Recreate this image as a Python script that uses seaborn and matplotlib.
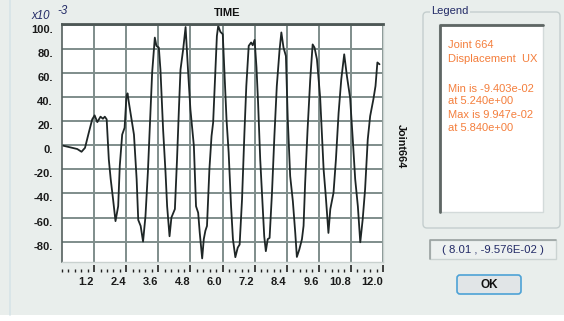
import numpy as np
import pandas as pd
import seaborn as sns
import matplotlib.pyplot as plt
from matplotlib import patches, transforms
from matplotlib.ticker import MultipleLocator

# Joint 664 displacement UX, in units of 1e-3
time_vals = [0.0, 0.26, 0.45, 0.57, 0.73, 0.86, 1.0, 1.13, 1.22, 1.32, 1.44, 1.53, 1.6, 1.67,
             1.75, 1.82, 1.91, 2.0, 2.1, 2.16, 2.25, 2.34, 2.41, 2.45, 2.5, 2.62, 2.69, 2.79,
             2.85, 2.94, 3.03, 3.12, 3.21, 3.28, 3.37, 3.47, 3.53, 3.62, 3.68, 3.78, 3.87, 3.93,
             4.02, 4.09, 4.22, 4.3, 4.37, 4.43, 4.53, 4.62, 4.71, 4.8, 4.93, 5.01, 5.09, 5.15,
             5.24, 5.3, 5.36, 5.42, 5.51, 5.59, 5.65, 5.73, 5.79, 5.84, 5.92, 6.01, 6.07, 6.15,
             6.23, 6.32, 6.39, 6.48, 6.57, 6.64, 6.73, 6.82, 6.89, 6.98, 7.07, 7.13, 7.2, 7.27,
             7.33, 7.41, 7.5, 7.56, 7.62, 7.69, 7.76, 7.85, 7.94, 8.03, 8.13, 8.2, 8.28, 8.37,
             8.44, 8.53, 8.63, 8.72, 8.78, 8.87, 8.97, 9.03, 9.09, 9.18, 9.28, 9.37, 9.44, 9.53,
             9.59, 9.65, 9.69, 9.78, 9.86, 9.96, 10.03, 10.15, 10.24, 10.34, 10.44, 10.55, 10.65,
             10.77, 10.87, 10.96, 11.06, 11.15, 11.24, 11.33, 11.43, 11.52, 11.64, 11.72, 11.79,
             11.87]
disp_vals = [0, -1.4, -2.5, -3.0, -5.3, -2.0, 10.5, 21.7, 25.0, 19.4, 23.9, 22.2, 23.9, 21.7,
             -11.7, -28, -45, -63, -50.6, -17, 9, 14.7, 41, 43.3, 35.6, 19, 9, -28,
             -62, -67, -80, -59, -22.5, 13, 60.5, 89.7, 82.8, 81.4, 63, 13, -22.5, -50.6,
             -75.6, -60, -53, -11.7, 30, 63, 80, 98.5, 63, 30, -0.5, -50.6, -56, -72.8,
             -94.03, -78, -71, -67, -20, 7.8, 19, 60.5, 91, 99.47, 94.5, 92.5, 63, 21.7,
             -6, -50.6, -78, -93.0, -85, -82.5, -45, 10.6, 49.4, 82.8, 85.6, 83.3, 87.8, 65,
             35.6, -11.7, -50.6, -75.6, -88, -78, -77, -39.4, 7.8, 49.4, 78.6, 94, 81.4, 74.4,
             21.7, -25.6, -46.4, -72.8, -92.8, -86.7, -78, -67, -31, 13, 55, 84, 81.4, 71.7,
             56, 40, 21.7, -20, -42, -72.8, -53, -39.4, -11.7, 27, 55, 75.8, 57.8,
             39.7, 5, -28, -50.6, -80.6, -61.7, -36.7, 5, 24.4, 38.3, 49.4, 69,
             67.5]

x_ticks = [1.2, 2.4, 3.6, 4.8, 6.0, 7.2, 8.4, 9.6, 10.8, 12.0]
x_tick_labels = ["1.2", "2.4", "3.6", "4.8", "6.0", "7.2", "8.4", "9.6", "10.8", "12.0"]
y_ticks = [-80, -60, -40, -20, 0, 20, 40, 60, 80, 100]
y_tick_labels = ["-80.", "-60.", "-40.", "-20.", "0.", "20.", "40.", "60.", "80.", "100."]

df = pd.DataFrame({"TIME": time_vals, "Joint664": disp_vals})

W, H = 564, 321
BG = "#E9EEEC"
ORANGE = "#F47E3C"
NAVY = "#222A66"

sns.set_style("white")
plt.rcParams["font.family"] = ["Liberation Sans", "DejaVu Sans"]

fig = plt.figure(figsize=(W / 100, H / 100), dpi=100, facecolor=BG)
px = transforms.IdentityTransform()


def fy(y):
    # flip pixel y (from top) to display y
    return H - y


ax = fig.add_axes([62 / W, 1 - 262 / H, (383 - 62) / W, (262 - 24) / H])
ax.set_facecolor("white")

sns.lineplot(data=df, x="TIME", y="Joint664", ax=ax, color="#1E2626",
             linewidth=1.3, estimator=None, sort=False)

ax.set_xlim(0, 12.0)
ax.set_ylim(-97, 101)
ax.set_xlabel("")
ax.set_ylabel("")

ax.set_xticks(x_ticks, x_tick_labels)
ax.set_yticks(y_ticks, y_tick_labels)
ax.xaxis.set_minor_locator(MultipleLocator(0.24))
ax.yaxis.set_minor_locator(MultipleLocator(4))
ax.grid(True, which="major", color="#7F8D8B", linewidth=1.4)
ax.set_axisbelow(True)

for s in ["right", "bottom"]:
    ax.spines[s].set_color("#C9D1CF")
    ax.spines[s].set_linewidth(1)
ax.spines["top"].set_color("#4D5755")
ax.spines["top"].set_linewidth(2)
ax.spines["left"].set_color("#55605E")
ax.spines["left"].set_linewidth(1.2)

# x ticks sit in a separate row under the plot
sec = ax.secondary_xaxis(-0.04)
sec.set_xticks(x_ticks, x_tick_labels)
sec.xaxis.set_minor_locator(MultipleLocator(0.24))
sec.spines["bottom"].set_visible(False)
sec.tick_params(axis="x", which="major", direction="in", length=5, width=1.2,
                color="#222", pad=4, labelsize=8)
sec.tick_params(axis="x", which="minor", direction="in", length=2.5, width=1,
                color="#222")
for lab in sec.get_xticklabels():
    lab.set_ha("right")
    lab.set_fontweight("bold")
    lab.set_color("#1A1A1A")
ax.tick_params(axis="x", which="both", bottom=False, labelbottom=False)

ax.tick_params(axis="y", which="major", direction="out", length=3.5, width=1,
               color="#333", pad=3, labelsize=8)
ax.tick_params(axis="y", which="minor", direction="out", length=1.8, width=0.8,
               color="#333")
shift = transforms.ScaledTranslation(0, -4 / 100, fig.dpi_scale_trans)
for lab in ax.get_yticklabels():
    lab.set_fontweight("bold")
    lab.set_color("#1A1A1A")
    lab.set_transform(lab.get_transform() + shift)

# titles around the plot
fig.text(227, fy(13), "TIME", transform=px, ha="center", va="center",
         fontsize=8, fontweight="bold", color="#111")
fig.text(401, fy(146), "Joint664", transform=px, ha="center", va="center",
         rotation=270, fontsize=7.8, fontweight="bold", color="#111")
fig.text(31, fy(16), "x10", transform=px, ha="left", va="center",
         fontsize=8.3, style="italic", color=NAVY)
fig.text(57, fy(11), "-3", transform=px, ha="left", va="center",
         fontsize=8.3, style="italic", color=NAVY)

# window decorations
fig.add_artist(patches.Rectangle((0, 0), W, H - 315, transform=px,
                                 facecolor="white", edgecolor="none"))
fig.add_artist(plt.Line2D([10, 10], [fy(0), fy(315)], transform=px,
                          color="#D6E4E8", linewidth=1.2))

# legend group box
fig.add_artist(patches.FancyBboxPatch((423, fy(228)), 137, 216, transform=px,
                                      boxstyle="round,pad=0,rounding_size=4",
                                      facecolor="none", edgecolor="#C4CECE", linewidth=1))
fig.text(431, fy(11), "Legend", transform=px, ha="left", va="center",
         fontsize=8, color=NAVY,
         bbox=dict(facecolor=BG, edgecolor="none", pad=1))
fig.add_artist(patches.Rectangle((439, fy(212)), 104, 188, transform=px,
                                 facecolor="white", edgecolor="#D3DADA", linewidth=1))
fig.add_artist(plt.Line2D([440, 440, 543], [fy(212), fy(25), fy(25)], transform=px,
                          color="#5E6664", linewidth=2))

i_min = int(np.argmin(disp_vals))
i_max = int(np.argmax(disp_vals))
legend_lines = [
    (45.5, "Joint 664"),
    (59, "Displacement  UX"),
    (89, "Min is %.3e" % (disp_vals[i_min] * 1e-3)),
    (101.5, "at %.3e" % time_vals[i_min]),
    (115.5, "Max is %.3e" % (disp_vals[i_max] * 1e-3)),
    (128, "at %.3e" % time_vals[i_max]),
]
for yy, txt in legend_lines:
    fig.text(448, fy(yy), txt, transform=px, ha="left", va="center",
             fontsize=8, color=ORANGE)

# cursor readout box
fig.add_artist(patches.Rectangle((430, fy(259)), 126, 19, transform=px,
                                 facecolor="#EDF1F0", edgecolor="#CBD3D2", linewidth=1))
fig.add_artist(plt.Line2D([430, 430, 556], [fy(259), fy(240), fy(240)], transform=px,
                          color="#9AA2A1", linewidth=1.2))
fig.text(492.5, fy(250), "( 8.01 , -9.576E-02 )", transform=px, ha="center",
         va="center", fontsize=8.2, color=NAVY)

# OK button
fig.add_artist(patches.FancyBboxPatch((457, fy(294)), 64, 19, transform=px,
                                      boxstyle="round,pad=0,rounding_size=3",
                                      facecolor="#E1E5E7", edgecolor="#4DA2D6", linewidth=1.2))
fig.text(489, fy(285), "OK", transform=px, ha="center", va="center",
         fontsize=8.5, fontweight="bold", color="#111")

fig.savefig("out.png", dpi=100, facecolor=BG)
